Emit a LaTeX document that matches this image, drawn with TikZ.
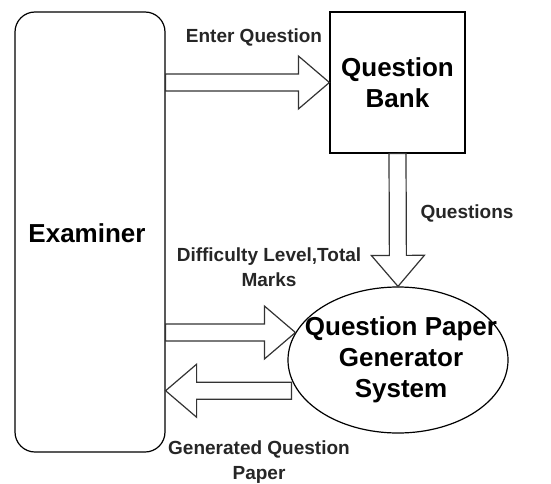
\documentclass[tikz,border=0pt]{standalone}
\usepackage{fontspec}
\setmainfont{Liberation Sans}
\usetikzlibrary{shapes.geometric,calc}

\tikzset{
  box/.style={draw, line width=1.2pt, inner sep=0pt},
  bigtext/.style={font=\fontsize{26}{31}\selectfont\bfseries, align=center},
  smalltext/.style={font=\fontsize{19}{25}\selectfont\bfseries, align=center, text=black!85},
  blockarrow/.style={draw=black!80, line width=1.2pt, fill=white, line join=miter},
}
% hollow block arrow from #1 to #2
\newcommand{\blockarrow}[2]{%
  \path (#1) coordinate (ba-s) (#2) coordinate (ba-t);
  \path ($(ba-t)!31pt!(ba-s)$) coordinate (ba-h);
  \draw[blockarrow] ($(ba-s)!8.5pt!90:(ba-t)$) -- ($(ba-h)!8.5pt!90:(ba-t)$)
    -- ($(ba-h)!26.5pt!90:(ba-t)$) -- (ba-t) -- ($(ba-h)!26.5pt!-90:(ba-t)$)
    -- ($(ba-h)!8.5pt!-90:(ba-t)$) -- ($(ba-s)!8.5pt!-90:(ba-t)$) -- cycle;
}

\begin{document}
\begin{tikzpicture}[x=1pt,y=-1pt]
\useasboundingbox (0,0) rectangle (551,484);
\node[box, rounded corners=20pt, minimum width=150pt, minimum height=440pt] at (90,232) (exam) {};
\node[bigtext] at (87,233) (examtext) {Examiner};
\node[box, minimum width=135pt, minimum height=141pt, bigtext] at (397.5,82.5) (qb) {Question\\Bank};
\node[box, ellipse, minimum width=220pt, minimum height=146pt] at (398,360) (gen) {};
\node[bigtext] at (401,360) (gentext) {Question Paper\\Generator\\System};

\node[smalltext] at (254,37) (lblenter) {Enter Question};
\node[smalltext] at (467,213) (lblquestions) {Questions};
\node[smalltext] at (269,267) (lbldiff) {Difficulty Level,Total\\Marks};
\node[smalltext] at (259,462) (lblgen) {Generated Question\\Paper};

\coordinate (gentail) at ($(gen.197)+(-6,0)$);
\blockarrow{exam.east |- qb.west}{qb.west}
\blockarrow{qb.south}{gen.north}
\blockarrow{exam.east |- gen.165}{gen.165}
\blockarrow{gentail}{exam.east |- gentail}
\end{tikzpicture}
\end{document}
